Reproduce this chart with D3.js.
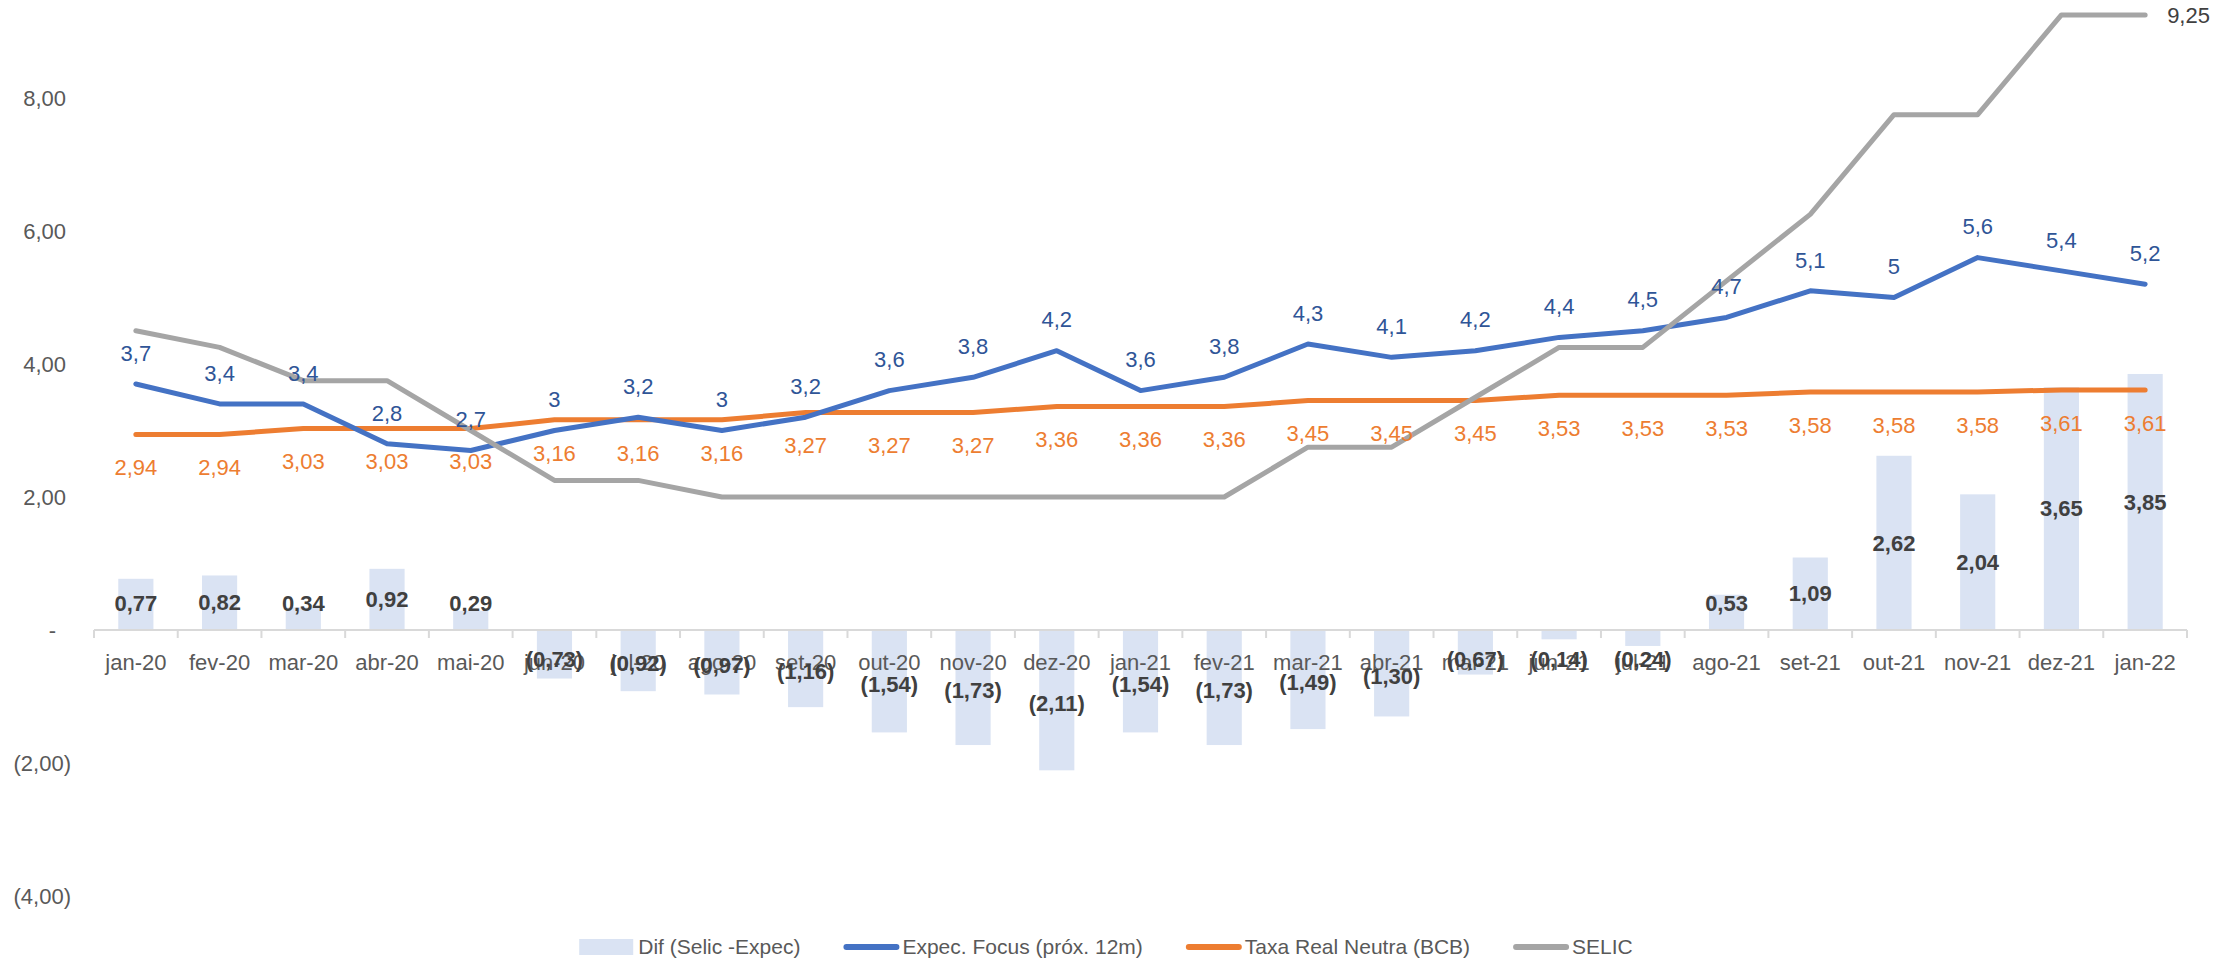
<!DOCTYPE html>
<html>
<head>
<meta charset="utf-8">
<script src="https://cdn.jsdelivr.net/npm/d3@7"></script>
<style>
  html, body { margin: 0; padding: 0; background: #ffffff; }
  svg { display: block; font-family: "Liberation Sans", Arial, sans-serif; }
</style>
</head>
<body>
<svg id="chart" width="2236" height="960"></svg>
<script>
// ---------------- DATA ----------------
const categories = ["jan-20","fev-20","mar-20","abr-20","mai-20","jun-20","jul-20","ago-20","set-20","out-20","nov-20","dez-20",
                    "jan-21","fev-21","mar-21","abr-21","mai-21","jun-21","jul-21","ago-21","set-21","out-21","nov-21","dez-21","jan-22"];
const difSelicExpec = [0.77, 0.82, 0.34, 0.92, 0.29, -0.73, -0.92, -0.97, -1.16, -1.54, -1.73, -2.11,
                       -1.54, -1.73, -1.49, -1.30, -0.67, -0.14, -0.24, 0.53, 1.09, 2.62, 2.04, 3.65, 3.85];
const expecFocus = [3.7, 3.4, 3.4, 2.8, 2.7, 3, 3.2, 3, 3.2, 3.6, 3.8, 4.2,
                    3.6, 3.8, 4.3, 4.1, 4.2, 4.4, 4.5, 4.7, 5.1, 5, 5.6, 5.4, 5.2];
const taxaRealNeutra = [2.94, 2.94, 3.03, 3.03, 3.03, 3.16, 3.16, 3.16, 3.27, 3.27, 3.27, 3.36,
                        3.36, 3.36, 3.45, 3.45, 3.45, 3.53, 3.53, 3.53, 3.58, 3.58, 3.58, 3.61, 3.61];
const selic = [4.5, 4.25, 3.75, 3.75, 3.0, 2.25, 2.25, 2.0, 2.0, 2.0, 2.0, 2.0,
               2.0, 2.0, 2.75, 2.75, 3.5, 4.25, 4.25, 5.25, 6.25, 7.75, 7.75, 9.25, 9.25];
const yTicks = [-4, -2, 0, 2, 4, 6, 8];
const seriesNames = ["Dif (Selic -Expec)", "Expec. Focus (próx. 12m)", "Taxa Real Neutra (BCB)", "SELIC"];

// ---------------- STYLE ----------------
const colBar = "#DAE3F3", colBlue = "#4472C4", colBlueLbl = "#2F5597", colOrange = "#ED7D31", colGrey = "#A5A5A5";
const colAxisText = "#595959", colDark = "#404040", colAxis = "#D9D9D9";

const locale = d3.formatLocale({decimal: ",", thousands: ".", grouping: [3], currency: ["R$", ""]});
const f2 = locale.format(",.2f");
const acct = v => v === 0 ? "-" : (v < 0 ? "(" + f2(-v) + ")" : f2(v));
const general = v => String(v).replace(".", ",");

const svg = d3.select("#chart");

const x = d3.scaleBand().domain(categories).range([94, 2187]).padding(0);
const y = d3.scaleLinear().domain([-4, 8]).range([896, 98]);
const cx = c => x(c) + x.bandwidth() / 2;
const barW = x.bandwidth() * 0.42;

// ---------------- BARS ----------------
svg.append("g").selectAll("rect").data(categories).join("rect")
  .attr("x", c => cx(c) - barW / 2)
  .attr("y", (c, i) => y(Math.max(0, difSelicExpec[i])))
  .attr("width", barW)
  .attr("height", (c, i) => Math.abs(y(difSelicExpec[i]) - y(0)))
  .attr("fill", colBar);

// ---------------- AXES ----------------
const yAxis = svg.append("g").attr("transform", "translate(66,0)")
  .call(d3.axisLeft(y).tickValues(yTicks).tickSize(0).tickPadding(0).tickFormat(acct));
yAxis.select(".domain").remove();
yAxis.selectAll("text")
  .attr("font-size", 22).attr("fill", colAxisText).attr("font-family", "Liberation Sans, Arial, sans-serif")
  .attr("dx", d => d < 0 ? 5 : (d === 0 ? -10 : 0));

const xAxisG = svg.append("g");
xAxisG.append("line")
  .attr("x1", x.range()[0]).attr("x2", x.range()[1])
  .attr("y1", y(0)).attr("y2", y(0))
  .attr("stroke", colAxis).attr("stroke-width", 2);
const boundaries = categories.map(c => x(c)).concat([x.range()[1]]);
xAxisG.selectAll("line.tick").data(boundaries).join("line").attr("class", "tick")
  .attr("x1", d => d).attr("x2", d => d)
  .attr("y1", y(0)).attr("y2", y(0) + 8)
  .attr("stroke", colAxis).attr("stroke-width", 2);
const xAxis = svg.append("g").attr("transform", `translate(0,${y(0)})`)
  .call(d3.axisBottom(x).tickSize(0).tickPadding(24));
xAxis.select(".domain").remove();
xAxis.selectAll("text")
  .attr("font-size", 22).attr("fill", colAxisText).attr("font-family", "Liberation Sans, Arial, sans-serif");

// ---------------- LINES ----------------
function drawLine(values, color) {
  const line = d3.line().x((d, i) => cx(categories[i])).y(d => y(d));
  svg.append("path").datum(values)
    .attr("d", line).attr("fill", "none")
    .attr("stroke", color).attr("stroke-width", 5)
    .attr("stroke-linejoin", "round").attr("stroke-linecap", "round");
}
drawLine(taxaRealNeutra, colOrange);
drawLine(expecFocus, colBlue);
drawLine(selic, colGrey);

// ---------------- LABELS ----------------
svg.append("g").selectAll("text").data(expecFocus).join("text")
  .attr("x", (d, i) => cx(categories[i]))
  .attr("y", d => y(d) - 31)
  .attr("dy", "0.35em")
  .attr("text-anchor", "middle")
  .attr("font-size", 22).attr("fill", colBlueLbl)
  .text(d => general(d));

svg.append("g").selectAll("text").data(taxaRealNeutra).join("text")
  .attr("x", (d, i) => cx(categories[i]))
  .attr("y", d => y(d) + 33)
  .attr("dy", "0.35em")
  .attr("text-anchor", "middle")
  .attr("font-size", 22).attr("fill", colOrange)
  .text(d => f2(d));

// Bar labels: centred in bar, kept clear of the axis line for short bars
const y0 = y(0);
svg.append("g").selectAll("text").data(difSelicExpec).join("text")
  .attr("x", (d, i) => cx(categories[i]))
  .attr("y", d => {
    const mid = (y(d) + y0) / 2;
    return d >= 0 ? Math.min(mid, y0 - 27) : Math.max(mid + 3, y0 + 29);
  })
  .attr("dy", "0.35em")
  .attr("text-anchor", "middle")
  .attr("font-size", 22).attr("font-weight", "bold").attr("fill", colDark)
  .text(d => acct(d));

const lastI = selic.length - 1;
svg.append("text")
  .attr("x", cx(categories[lastI]) + 22)
  .attr("y", y(selic[lastI]))
  .attr("dy", "0.35em")
  .attr("font-size", 22).attr("fill", colDark)
  .text(f2(selic[lastI]));

// ---------------- LEGEND ----------------
const legend = svg.append("g");
const legendY = 947;
const keyTypes = ["rect", "line", "line", "line"];
const keyColors = [colBar, colBlue, colOrange, colGrey];
const gap = 43;
let cursor = 0;
seriesNames.forEach((name, i) => {
  const g = legend.append("g");
  if (keyTypes[i] === "rect") {
    g.append("rect").attr("x", 0).attr("y", legendY - 8).attr("width", 54).attr("height", 16).attr("fill", keyColors[i]);
  } else {
    g.append("line").attr("x1", 3).attr("x2", 53).attr("y1", legendY).attr("y2", legendY)
      .attr("stroke", keyColors[i]).attr("stroke-width", 6).attr("stroke-linecap", "round");
  }
  const t = g.append("text").attr("x", 59).attr("y", legendY).attr("dy", "0.35em")
    .attr("font-size", 21).attr("fill", colAxisText).text(name);
  const w = 59 + t.node().getComputedTextLength();
  g.attr("transform", `translate(${cursor},0)`);
  cursor += w + gap;
});
const totalW = cursor - gap;
legend.attr("transform", `translate(${1106 - totalW / 2},0)`);
</script>
</body>
</html>
